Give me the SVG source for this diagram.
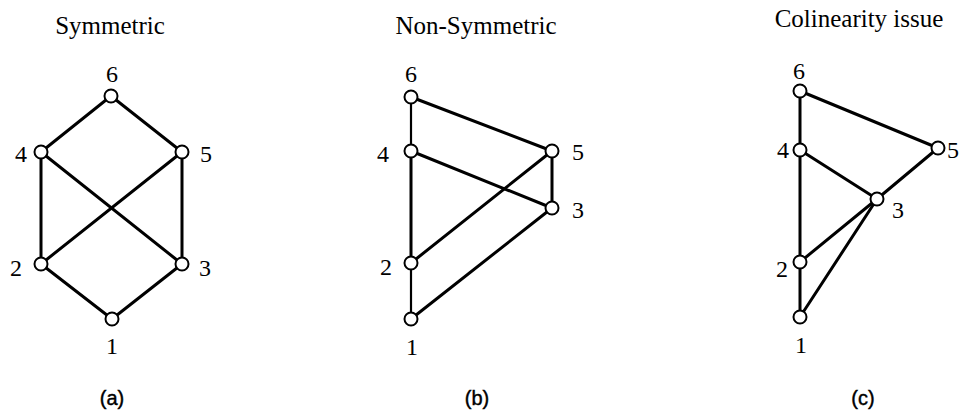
<svg xmlns="http://www.w3.org/2000/svg" width="961" height="413" viewBox="0 0 961 413">
<style>
.t{font-family:"Liberation Serif","Times New Roman",serif;font-size:25px;fill:#000;text-anchor:middle}
.n{font-family:"Liberation Serif","Times New Roman",serif;font-size:24px;fill:#000;text-anchor:middle}
.c{font-family:"Liberation Sans",Arial,sans-serif;font-size:20px;fill:#000;text-anchor:middle;stroke:#000;stroke-width:0.4}
.e line{stroke:#000;stroke-width:3;stroke-linecap:round}
.e line.thin{stroke-width:2.2}
circle{fill:#fff;stroke:#000;stroke-width:2}
</style>
<rect width="961" height="413" fill="#fff"/>
<text class="t" x="110" y="34">Symmetric</text>
<text class="t" x="476" y="34">Non-Symmetric</text>
<text class="t" x="859" y="27">Colinearity issue</text>
<text class="c" x="112" y="405">(a)</text>
<text class="c" x="477" y="405">(b)</text>
<text class="c" x="863" y="405">(c)</text>
<g id="connectors" class="e">
<line x1="111" y1="96" x2="41" y2="152"/>
<line x1="111" y1="96" x2="182" y2="152"/>
<line x1="41" y1="152" x2="41" y2="264"/>
<line x1="182" y1="152" x2="182" y2="264"/>
<line x1="41" y1="152" x2="182" y2="264"/>
<line x1="182" y1="152" x2="41" y2="264"/>
<line x1="41" y1="264" x2="112" y2="319"/>
<line x1="182" y1="264" x2="112" y2="319"/>
<line class="thin" x1="411" y1="97" x2="411" y2="151"/>
<line x1="411" y1="97" x2="552" y2="151"/>
<line x1="411" y1="151" x2="411" y2="263"/>
<line class="thin" x1="411" y1="263" x2="411" y2="319"/>
<line x1="411" y1="151" x2="552" y2="208"/>
<line x1="552" y1="151" x2="411" y2="263"/>
<line x1="552" y1="151" x2="552" y2="208"/>
<line x1="552" y1="208" x2="411" y2="319"/>
<line x1="800" y1="91" x2="800" y2="150"/>
<line x1="800" y1="91" x2="938" y2="148"/>
<line x1="800" y1="150" x2="800" y2="262"/>
<line x1="800" y1="262" x2="800" y2="317"/>
<line x1="800" y1="150" x2="877" y2="199"/>
<line x1="877" y1="199" x2="938" y2="148"/>
<line x1="877" y1="199" x2="800" y2="262"/>
<line x1="877" y1="199" x2="800" y2="317"/>
</g>
<g id="a1"><circle cx="112" cy="319" r="6.5"/><text class="n" x="112" y="354">1</text></g>
<g id="a2"><circle cx="41" cy="264" r="6.5"/><text class="n" x="16" y="276">2</text></g>
<g id="a3"><circle cx="182" cy="264" r="6.5"/><text class="n" x="205" y="276">3</text></g>
<g id="a4"><circle cx="41" cy="152" r="6.5"/><text class="n" x="21" y="162">4</text></g>
<g id="a5"><circle cx="182" cy="152" r="6.5"/><text class="n" x="206" y="162">5</text></g>
<g id="a6"><circle cx="111" cy="96" r="6.5"/><text class="n" x="112" y="82">6</text></g>
<g id="b1"><circle cx="411" cy="319" r="6.5"/><text class="n" x="412" y="355">1</text></g>
<g id="b2"><circle cx="411" cy="263" r="6.5"/><text class="n" x="386" y="275">2</text></g>
<g id="b3"><circle cx="552" cy="208" r="6.5"/><text class="n" x="578" y="218">3</text></g>
<g id="b4"><circle cx="411" cy="151" r="6.5"/><text class="n" x="383" y="162">4</text></g>
<g id="b5"><circle cx="552" cy="151" r="6.5"/><text class="n" x="578" y="160">5</text></g>
<g id="b6"><circle cx="411" cy="97" r="6.5"/><text class="n" x="411" y="82">6</text></g>
<g id="c1"><circle cx="800" cy="317" r="6.5"/><text class="n" x="801" y="353">1</text></g>
<g id="c2"><circle cx="800" cy="262" r="6.5"/><text class="n" x="782" y="277">2</text></g>
<g id="c3"><circle cx="877" cy="199" r="6.5"/><text class="n" x="898" y="218">3</text></g>
<g id="c4"><circle cx="800" cy="150" r="6.5"/><text class="n" x="783" y="158">4</text></g>
<g id="c5"><circle cx="938" cy="148" r="6.5"/><text class="n" x="953" y="158">5</text></g>
<g id="c6"><circle cx="800" cy="91" r="6.5"/><text class="n" x="799" y="79">6</text></g>
</svg>
